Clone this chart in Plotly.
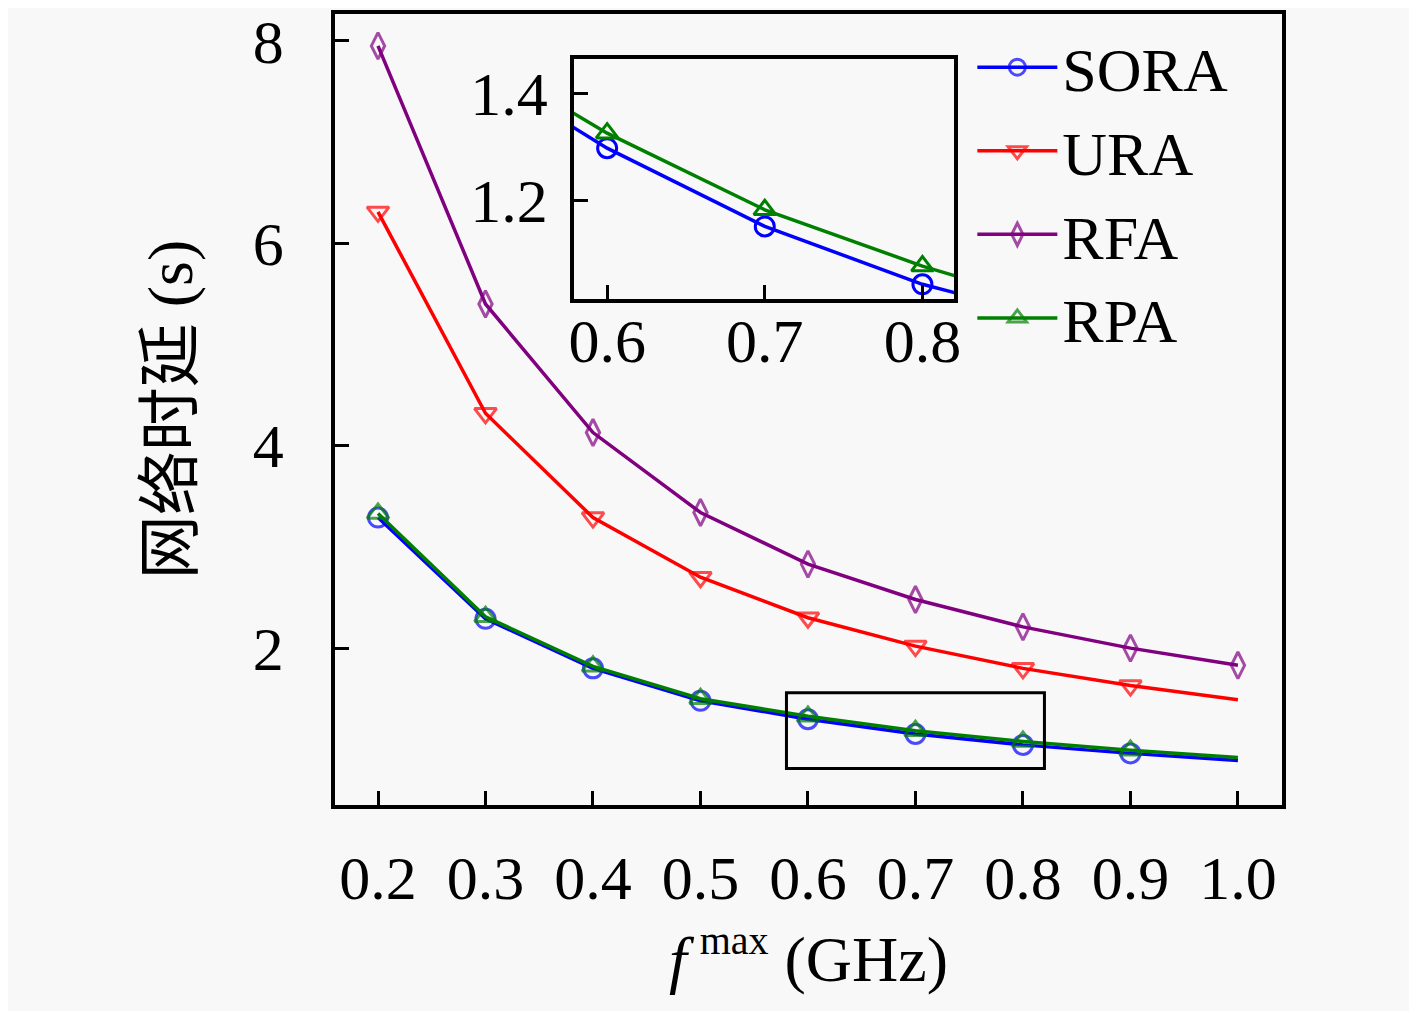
import plotly.graph_objects as go

# f^max (GHz)
freq = [0.2, 0.3, 0.4, 0.5, 0.6, 0.7, 0.8, 0.9, 1.0]

sora = [3.29, 2.29, 1.80, 1.48, 1.298, 1.152, 1.044, 0.96, 0.89]
ura = [6.31, 4.32, 3.29, 2.70, 2.30, 2.02, 1.80, 1.63, 1.49]
rfa = [7.95, 5.40, 4.13, 3.34, 2.83, 2.48, 2.21, 2.00, 1.83]
rpa = [3.33, 2.31, 1.82, 1.50, 1.326, 1.183, 1.078, 0.99, 0.92]

x_ticks = [0.2, 0.3, 0.4, 0.5, 0.6, 0.7, 0.8, 0.9, 1.0]
x_ticklabels = ["0.2", "0.3", "0.4", "0.5", "0.6", "0.7", "0.8", "0.9", "1.0"]
y_ticks = [2, 4, 6, 8]
inset_xticks = [0.6, 0.7, 0.8]
inset_yticks = [1.2, 1.4]

FONT = "Liberation Serif, Noto Sans CJK SC, serif"
BG = "#f8f8f8"

series = [
    ("SORA", sora, "#0000ff", "circle-open", False),
    ("URA", ura, "#ff0000", "triangle-down-open", False),
    ("RFA", rfa, "#800080", "diamond-tall-open", True),
    ("RPA", rpa, "#008000", "triangle-up-open", False),
]

fig = go.Figure()

for name, vals, color, sym, last_marker in series:
    sizes = [19] * len(freq)
    if not last_marker:
        sizes[-1] = 0
    fig.add_trace(go.Scatter(
        x=freq, y=vals, name=name, mode="lines+markers",
        line=dict(color=color, width=3.5),
        marker=dict(symbol=sym, size=sizes, color=color,
                    line=dict(width=3, color=color)),
    ))

# inset: zoom on SORA / RPA
for name, vals, color, sym, last_marker in series:
    if name not in ("SORA", "RPA"):
        continue
    fig.add_trace(go.Scatter(
        x=freq, y=vals, mode="lines+markers", showlegend=False,
        xaxis="x2", yaxis="y2",
        line=dict(color=color, width=3.5),
        marker=dict(symbol=sym, size=19, color=color,
                    line=dict(width=3, color=color)),
    ))

axis_common = dict(
    showline=True, linecolor="black", linewidth=3.5, mirror=True,
    ticks="inside", tickcolor="black", tickwidth=3, ticklen=14,
    showgrid=False, zeroline=False, ticklabeloverflow="allow",
    tickfont=dict(family=FONT, size=62, color="black"),
)

fig.update_layout(
    width=1417, height=1011,
    margin=dict(l=327, r=143, t=0, b=214),
    paper_bgcolor=BG, plot_bgcolor=BG,
    font=dict(family=FONT, color="black"),
    xaxis=dict(axis_common, range=[0.16, 1.041], tickvals=x_ticks,
               ticktext=x_ticklabels, ticklabelstandoff=16,
               title=dict(text="<i>f</i>\u2009<sup><span style='font-size:40px'>max</span></sup> (GHz)",
                          font=dict(family=FONT, size=64), standoff=26)),
    yaxis=dict(axis_common, range=[0.45, 8.265], tickvals=y_ticks,
               ticklabelstandoff=35,
               title=dict(text="网络时延 (s)",
                          font=dict(family=FONT, size=64), standoff=40)),
    xaxis2=dict(axis_common, domain=[0.2524, 0.6536], anchor="y2",
                range=[0.579, 0.820], tickvals=inset_xticks,
                ticklabelstandoff=-15),
    yaxis2=dict(axis_common, domain=[0.640, 0.9435], anchor="x2",
                range=[1.017, 1.465], tickvals=inset_yticks,
                ticklabelstandoff=10),
    legend=dict(x=0.673, y=0.992, xanchor="left", yanchor="top",
                bgcolor="rgba(0,0,0,0)", borderwidth=0, itemwidth=80,
                font=dict(family=FONT, size=62), tracegroupgap=0),
    shapes=[dict(type="rect", xref="x", yref="y", x0=0.58, x1=0.82,
                 y0=0.81, y1=1.56, line=dict(color="black", width=3))],
)

fig.write_html("out.html")
